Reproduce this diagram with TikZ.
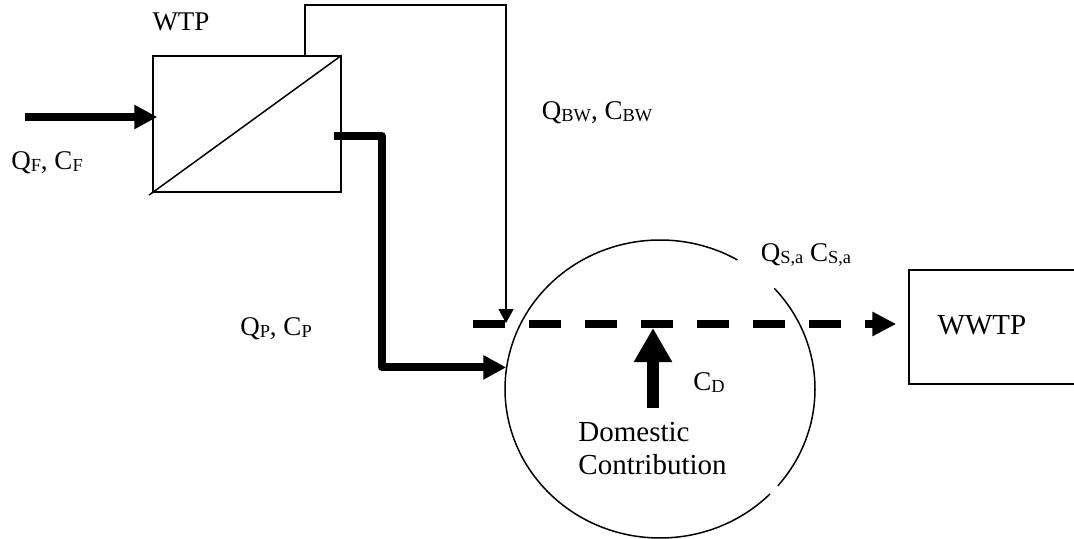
\documentclass[tikz,border=0pt]{standalone}
\usepackage{fontspec}
\setmainfont{Liberation Serif}
\usetikzlibrary{arrows.meta,shapes.geometric}
\newcommand{\sbs}[1]{\raisebox{-1pt}{\fontsize{9.2}{9.2}\selectfont #1}}
\begin{document}
\begin{tikzpicture}[x=0.5pt,y=-0.5pt,
  lbl/.style={inner sep=0pt, font=\fontsize{13.5}{16.5}\selectfont},
  biglbl/.style={inner sep=0pt, font=\fontsize{14.5}{16.5}\selectfont},
  box/.style={draw, line width=0.75pt, inner sep=0pt},
  thinline/.style={line width=0.75pt},
  thinflow/.style={line width=0.75pt, -{Triangle[length=7pt,width=7.5pt]}},
  thickflow/.style={line width=4pt, -{Triangle[length=11.5pt,width=11.5pt]}},
  dashflow/.style={line width=4pt, dash pattern=on 16pt off 12pt, -{Triangle[length=12pt,width=11.5pt]}},
  domflow/.style={line width=6pt, -{Triangle[length=17pt,width=18pt]}},
]
\useasboundingbox (0,0) rectangle (1074,539);
\clip (0,0) rectangle (1074,539);

% WTP
\node[box, minimum width=94pt, minimum height=68pt] (wtp) at (247,124) {};
\draw[thinline, shorten <=-2pt] (wtp.south west) -- (wtp.north east);
\node[lbl] (wtplbl) at (181,22) {WTP};

% feed
\coordinate (feedstart) at (25,117);
\draw[thickflow] (feedstart) -- ([xshift=2.5pt]wtp.west |- feedstart);
\node[lbl] (qf) at (47,163) {Q\sbs{F}, C\sbs{F}};

% sewer
\node[ellipse, draw=none, inner sep=0pt, minimum width=155pt, minimum height=149pt] (sewer) at (660,389) {};
\draw[thinline] (sewer.center) ++(-42.5:155 and 149) arc[start angle=-42.5, end angle=40.5, x radius=155, y radius=149];
\draw[thinline] (sewer.center) ++(44.8:155 and 149) arc[start angle=44.8, end angle=300, x radius=155, y radius=149];

% backwash
\coordinate (bwtip) at (506,323);
\draw[thinflow] ([xshift=29pt]wtp.north) -- ++(0,-50) -| (bwtip);
\node[lbl] (qbw) at (597,113) {Q\sbs{BW}, C\sbs{BW}};

% product
\draw[thickflow, line join=round] ([shift={(-8,12)}]wtp.east) -- ++(48,0) |- (sewer.172);
\node[lbl] (qp) at (276,329) {Q\sbs{P}, C\sbs{P}};

% WWTP
\node[box, minimum width=90.5pt, minimum height=57pt] (wwtp) at (999.5,327) {};
\node[biglbl] (wwtplbl) at (982,325) {WWTP};

% dashed flow
\coordinate (dashstart) at (473,324);
\draw[dashflow, shorten >=6pt] (dashstart) -- (wwtp.west |- dashstart);

% domestic
\node[biglbl, align=left, anchor=north west] (dom) at (578,422) {Domestic\\Contribution};
\coordinate (domtip) at (653,328);
\draw[domflow, shorten <=7pt] (domtip |- dom.north) -- (domtip);
\node[lbl] (cd) at (709,383) {C\sbs{D}};
\node[lbl] (qs) at (806,255) {Q\sbs{S,a} C\sbs{S,a}};
\end{tikzpicture}
\end{document}
